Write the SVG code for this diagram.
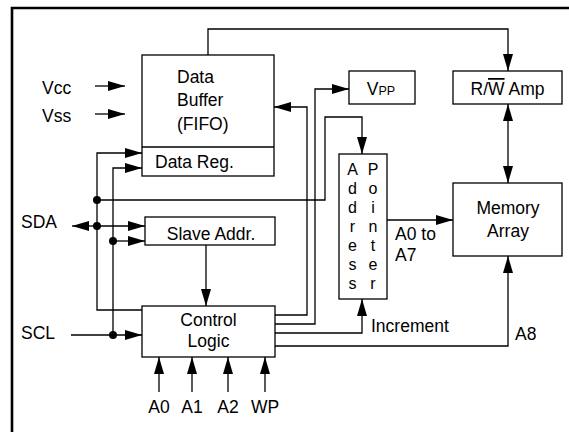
<svg xmlns="http://www.w3.org/2000/svg" width="569" height="432" viewBox="0 0 569 432">
<style>
.box{fill:#fff;stroke:#000;stroke-width:1.3}
.ln{fill:none;stroke:#000;stroke-width:1.3}
.ar{marker-end:url(#ah)}
text{font-family:"Liberation Sans",Arial,sans-serif;font-size:17.5px;fill:#000}
.c{text-anchor:middle}
.p{font-size:16px}
.dot{fill:#000}
</style>
<defs>
<marker id="ah" viewBox="0 0 17 10" markerWidth="17" markerHeight="10" markerUnits="userSpaceOnUse" refX="17" refY="5" orient="auto-start-reverse">
<path d="M0,0 L17,5 L0,10 z" fill="#000"/>
</marker>
</defs>
<rect width="569" height="432" fill="#fff"/>
<path d="M12,432 L12,8 L569,8" fill="none" stroke="#000" stroke-width="2.6"/>

<g id="connectors">
<path class="ln ar" d="M95,86 L125,86"/>
<path class="ln ar" d="M95,114 L125,114"/>
<path class="ln ar" d="M97,226 L72,226"/>
<path class="ln ar" d="M97,226 L145,226"/>
<path class="ln ar" d="M113,241 L145,241"/>
<path class="ln ar" d="M71,335 L142,335"/>
<path class="ln ar" d="M142,310 L97,310 L97,153 L142,153"/>
<path class="ln ar" d="M113,335 L113,168 L142,168"/>
<path class="ln ar" d="M97,200 L325,200 L325,117 L362,117 L362,154"/>
<path class="ln ar" d="M208,55 L208,29 L508,29 L508,71"/>
<path class="ln ar" d="M508,104 L508,183" marker-start="url(#ah)"/>
<path class="ln ar" d="M387,220 L453,220"/>
<path class="ln ar" d="M206,245 L206,306"/>
<path class="ln ar" d="M275,315 L307,315 L307,107 L274,107"/>
<path class="ln ar" d="M275,324 L315,324 L315,89 L349,89"/>
<path class="ln ar" d="M275,333 L362,333 L362,299"/>
<path class="ln ar" d="M275,346 L508,346 L508,256"/>
<path class="ln ar" d="M159,392 L159,357"/>
<path class="ln ar" d="M192,392 L192,357"/>
<path class="ln ar" d="M228,392 L228,357"/>
<path class="ln ar" d="M265,392 L265,357"/>
<circle class="dot" cx="97" cy="200" r="4"/>
<circle class="dot" cx="97" cy="226" r="4"/>
<circle class="dot" cx="113" cy="241" r="4"/>
<circle class="dot" cx="113" cy="335" r="4"/>
</g>

<g id="data-buffer">
<rect class="box" x="142" y="55" width="132" height="121"/>
<line class="ln" x1="142" y1="147" x2="274" y2="147"/>
<text x="177" y="83">Data</text>
<text x="177" y="106">Buffer</text>
<text x="177" y="130">(FIFO)</text>
<text x="155" y="168">Data Reg.</text>
</g>

<g id="vpp">
<rect class="box" x="349" y="71" width="66" height="33"/>
<text class="c" x="381" y="95">V<tspan font-size="12.5">PP</tspan></text>
</g>

<g id="rw-amp">
<rect class="box" x="453" y="71" width="109" height="33"/>
<text class="c" x="507.5" y="95">R/<tspan text-decoration="overline">W</tspan> Amp</text>
</g>

<g id="address-pointer">
<rect class="box" x="339" y="154" width="48" height="145"/>
<text class="c p" x="352.5" y="175">A</text>
<text class="c p" x="352.5" y="194">d</text>
<text class="c p" x="352.5" y="213">d</text>
<text class="c p" x="352.5" y="232">r</text>
<text class="c p" x="352.5" y="251">e</text>
<text class="c p" x="352.5" y="270">s</text>
<text class="c p" x="352.5" y="289">s</text>
<text class="c p" x="373" y="175">P</text>
<text class="c p" x="373" y="194">o</text>
<text class="c p" x="373" y="213">i</text>
<text class="c p" x="373" y="232">n</text>
<text class="c p" x="373" y="251">t</text>
<text class="c p" x="373" y="270">e</text>
<text class="c p" x="373" y="289">r</text>
</g>

<g id="memory-array">
<rect class="box" x="453" y="183" width="109" height="73"/>
<text class="c" x="508" y="214">Memory</text>
<text class="c" x="508" y="237">Array</text>
</g>

<g id="slave-addr">
<rect class="box" x="145" y="217" width="130" height="28"/>
<text class="c" x="211" y="240">Slave Addr.</text>
</g>

<g id="control-logic">
<rect class="box" x="142" y="306" width="133" height="51"/>
<text class="c" x="208.5" y="326">Control</text>
<text class="c" x="208.5" y="347">Logic</text>
</g>

<g id="labels">
<text x="42" y="94">Vcc</text>
<text x="42" y="122">Vss</text>
<text x="21" y="228">SDA</text>
<text x="21" y="339">SCL</text>
<text x="395" y="240">A0 to</text>
<text x="395" y="261">A7</text>
<text x="371" y="332">Increment</text>
<text x="515" y="340">A8</text>
<text class="c" x="159" y="413">A0</text>
<text class="c" x="192" y="413">A1</text>
<text class="c" x="228" y="413">A2</text>
<text class="c" x="265" y="413">WP</text>
</g>
</svg>
